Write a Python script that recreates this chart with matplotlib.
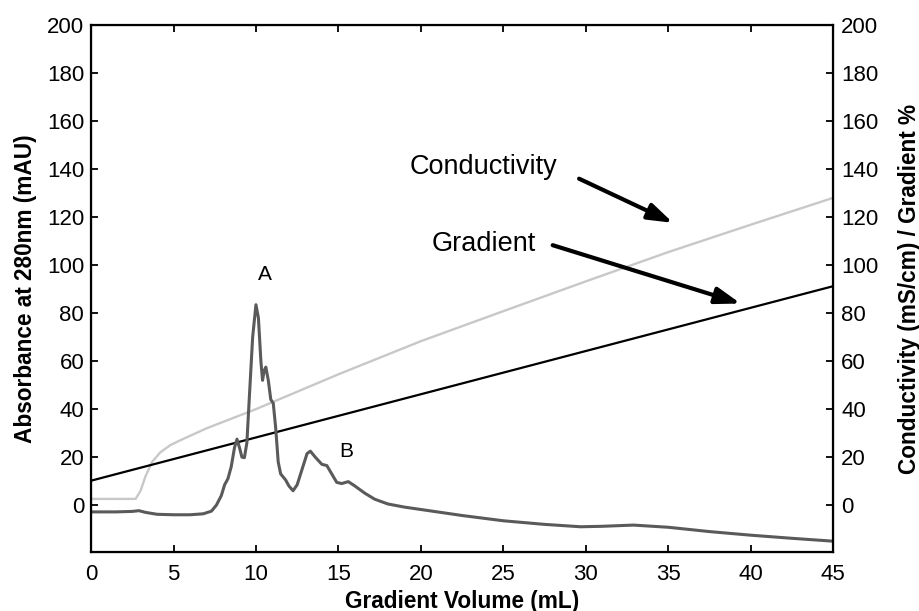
import matplotlib
matplotlib.use("Agg")
import matplotlib.pyplot as plt

plt.rcParams['font.family'] = ['Liberation Sans', 'DejaVu Sans']

# absorbance trace at 280 nm
abs_x = [0, 1.5, 2.5, 2.9, 3.3, 4.0, 5.0, 6.0, 6.8, 7.3, 7.6, 7.9, 8.1, 8.3, 8.5, 8.7,
         8.85, 9.0, 9.15, 9.3, 9.45, 9.6, 9.8, 10.0, 10.15, 10.3, 10.4, 10.5, 10.6, 10.75,
         10.9, 11.05, 11.2, 11.35, 11.5, 11.8, 12.0, 12.25, 12.5, 12.8, 13.1, 13.3, 13.6,
         14.0, 14.3, 14.6, 14.9, 15.2, 15.6, 16.0, 16.6, 17.2, 18.0, 19.0, 20.0, 22.5, 25,
         27.5, 29.7, 31, 32.9, 35, 37.5, 40, 42.5, 45]
abs_y = [-2.8, -2.8, -2.6, -2.3, -3.0, -3.8, -4.0, -4.0, -3.6, -2.5, 0, 4, 8.5, 11, 16, 24,
         27.5, 24, 20, 19.8, 26, 45, 70, 83.5, 78, 60, 52, 56, 57.5, 52,
         44, 42.5, 32, 18, 13, 10.5, 8, 6, 8.5, 15, 21.5, 22.5, 20,
         17, 16.5, 13, 9.5, 9, 9.8, 8, 5, 2.5, 0.5, -0.8, -1.8, -4.3, -6.5,
         -8, -9, -8.8, -8.3, -9.2, -11, -12.5, -13.8, -15.0]

# conductivity trace
cond_x = [0, 2.7, 3.0, 3.3, 3.7, 4.2, 4.8, 5.4, 7, 10, 15, 20, 25, 30, 35, 40, 45]
cond_y = [2.6, 2.6, 6, 12, 18, 22, 25, 27, 32, 40, 54.5, 68.3, 80.8, 93.2, 105.4, 116.8, 128]

# gradient (%)
grad_x = [0, 45]
grad_y = [10.2, 91.2]

peak_labels = ['A', 'B']
peak_x = [10.55, 15.5]
peak_y = [96, 22.5]

fig = plt.figure(figsize=(9.2, 6.11), dpi=100)
ax = fig.add_axes([0.099, 0.0966, 0.8064, 0.8624])

ax.plot(cond_x, cond_y, color='#c8c8c8', lw=1.7)
ax.plot(grad_x, grad_y, color='black', lw=1.6)
ax.plot(abs_x, abs_y, color='#5a5a5a', lw=2.2)

for lab, px, py in zip(peak_labels, peak_x, peak_y):
    ax.text(px, py, lab, ha='center', va='center', fontsize=15)

arrow_style = dict(arrowstyle='-|>,head_length=1.5,head_width=0.5', color='black', lw=3,
                   shrinkA=0, shrinkB=0)
ax.annotate('', xy=(35.3, 117.6), xytext=(29.6, 136), arrowprops=arrow_style)
ax.text(23.8, 141, 'Conductivity', ha='center', va='center', fontsize=19.5)
ax.annotate('', xy=(39.4, 84), xytext=(28.0, 108.3), arrowprops=arrow_style)
ax.text(23.8, 109, 'Gradient', ha='center', va='center', fontsize=19.5)

ax.set_xlim(0, 45)
ax.set_ylim(-19.5, 200)
ax.set_xticks(range(0, 46, 5))
ax.set_yticks(range(0, 201, 20))
ax.tick_params(direction='in', length=5, width=1.3, labelsize=16, top=True)
ax.tick_params(axis='x', pad=9)
ax.tick_params(axis='y', pad=5)
ax.set_xlabel('Gradient Volume (mL)', fontsize=16.3, fontweight='bold', labelpad=3)
ax.set_ylabel('Absorbance at 280nm (mAU)', fontsize=16.3, fontweight='bold', labelpad=7)
for sp in ax.spines.values():
    sp.set_linewidth(1.6)

ax2 = ax.twinx()
ax2.set_ylim(-19.5, 200)
ax2.set_yticks(range(0, 201, 20))
ax2.tick_params(direction='in', length=5, width=1.3, labelsize=16, pad=6)
ax2.set_ylabel('Conductivity (mS/cm) / Gradient %', fontsize=16.3, fontweight='bold', labelpad=14)

fig.savefig('out.png', dpi=100)
